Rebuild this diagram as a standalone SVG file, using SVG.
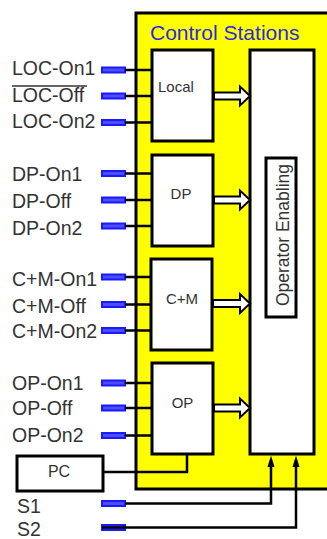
<svg xmlns="http://www.w3.org/2000/svg" width="327" height="539" viewBox="0 0 327 539">
<style>
.box{fill:#fff;stroke:#000;stroke-width:3}
.lbl{font-family:"Liberation Sans",Arial,sans-serif;font-size:19.5px;fill:#333}
.in{font-family:"Liberation Sans",Arial,sans-serif;font-size:15px;fill:#333}
.pad{fill:#4d4dff;stroke:#1a1aff;stroke-width:2}
.wire{fill:none;stroke:#000;stroke-width:2.5}
.arr{fill:#fff;stroke:#000;stroke-width:2}
.head{fill:#000}
</style>
<g id="control-stations">
<rect x="136" y="13" width="200" height="476" fill="#ffff00" stroke="#000" stroke-width="3"/>
<text x="150" y="39.5" font-family="'Liberation Sans',Arial,sans-serif" font-size="21" fill="#2a2ae0">Control Stations</text>
</g>
<g id="local"><rect class="box" x="152" y="50" width="61" height="91"/><text class="in" x="158" y="92">Local</text></g>
<g id="dp"><rect class="box" x="152" y="155" width="61" height="91"/><text class="in" x="181" y="199" text-anchor="middle">DP</text></g>
<g id="cm"><rect class="box" x="151" y="259" width="61" height="91"/><text class="in" x="182" y="303.5" text-anchor="middle">C+M</text></g>
<g id="op"><rect class="box" x="152" y="363" width="61" height="91"/><text class="in" x="182.5" y="407.5" text-anchor="middle">OP</text></g>
<g id="operator-panel"><rect class="box" x="250" y="50" width="64" height="404"/></g>
<g id="operator-enabling"><rect class="box" x="266" y="158" width="30" height="159" stroke-width="2.5"/><text x="288.5" y="235" transform="rotate(-90 288.5 235)" text-anchor="middle" font-family="'Liberation Sans',Arial,sans-serif" font-size="17.5" fill="#333">Operator Enabling</text></g>
<g id="pc"><rect class="box" x="17" y="456" width="86" height="35" stroke-width="2.5"/><text x="59" y="477" text-anchor="middle" font-family="'Liberation Sans',Arial,sans-serif" font-size="16" fill="#333">PC</text></g>
<g id="inputs">
<text class="lbl" x="12" y="75">LOC-On1</text>
<text class="lbl" x="12" y="101.5">LOC-Off</text>
<line x1="12" y1="86" x2="87" y2="86" stroke="#333" stroke-width="1.5"/>
<text class="lbl" x="12" y="128">LOC-On2</text>
<text class="lbl" x="12" y="181">DP-On1</text>
<text class="lbl" x="12" y="208">DP-Off</text>
<text class="lbl" x="12" y="235">DP-On2</text>
<text class="lbl" x="12" y="285.5">C+M-On1</text>
<text class="lbl" x="12" y="312.5">C+M-Off</text>
<text class="lbl" x="12" y="338">C+M-On2</text>
<text class="lbl" x="12" y="390">OP-On1</text>
<text class="lbl" x="12" y="415">OP-Off</text>
<text class="lbl" x="12" y="441.5">OP-On2</text>
<text class="lbl" x="17" y="512.5">S1</text>
<text class="lbl" x="17" y="535.5">S2</text>
<rect class="pad" x="102" y="67.5" width="23" height="5"/>
<rect class="pad" x="102" y="93.5" width="23" height="5"/>
<rect class="pad" x="102" y="120" width="23" height="5"/>
<rect class="pad" x="102" y="171" width="23" height="5"/>
<rect class="pad" x="102" y="197.5" width="23" height="5"/>
<rect class="pad" x="102" y="223.5" width="23" height="5"/>
<rect class="pad" x="102" y="274.5" width="23" height="5"/>
<rect class="pad" x="102" y="302" width="23" height="5"/>
<rect class="pad" x="102" y="328" width="23" height="5"/>
<rect class="pad" x="102" y="380.5" width="23" height="5"/>
<rect class="pad" x="102" y="405.5" width="23" height="5"/>
<rect class="pad" x="102" y="433" width="23" height="5"/>
<rect class="pad" x="102" y="501" width="23" height="5"/>
<rect class="pad" x="102" y="525" width="23" height="5"/>
</g>
<g id="connectors">
<path class="wire" d="M125,70H152M125,96H152M125,122.5H152M125,173.5H152M125,200H152M125,226H152M125,277H151M125,304.5H151M125,330.5H151M125,383H152M125,408H152M125,435.5H152"/>
<polyline class="wire" points="103,472 187,472 187,454"/>
<polyline class="wire" points="125,503.5 271,503.5 271,464"/>
<polyline class="wire" points="102,527.5 296,527.5 296,464"/>
<polygon class="head" points="271,455.5 274.5,467 267.5,467"/>
<polygon class="head" points="296,455.5 299.5,467 292.5,467"/>
<polygon class="arr" points="214,92.5 240,92.5 240,86.5 250,96 240,105.5 240,99.5 214,99.5"/>
<polygon class="arr" points="214,196.5 240,196.5 240,190.5 250,200 240,209.5 240,203.5 214,203.5"/>
<polygon class="arr" points="213,300 240,300 240,294 250,303.5 240,313 240,307 213,307"/>
<polygon class="arr" points="214,404.5 240,404.5 240,398.5 250,408 240,417.5 240,411.5 214,411.5"/>
</g>
</svg>
